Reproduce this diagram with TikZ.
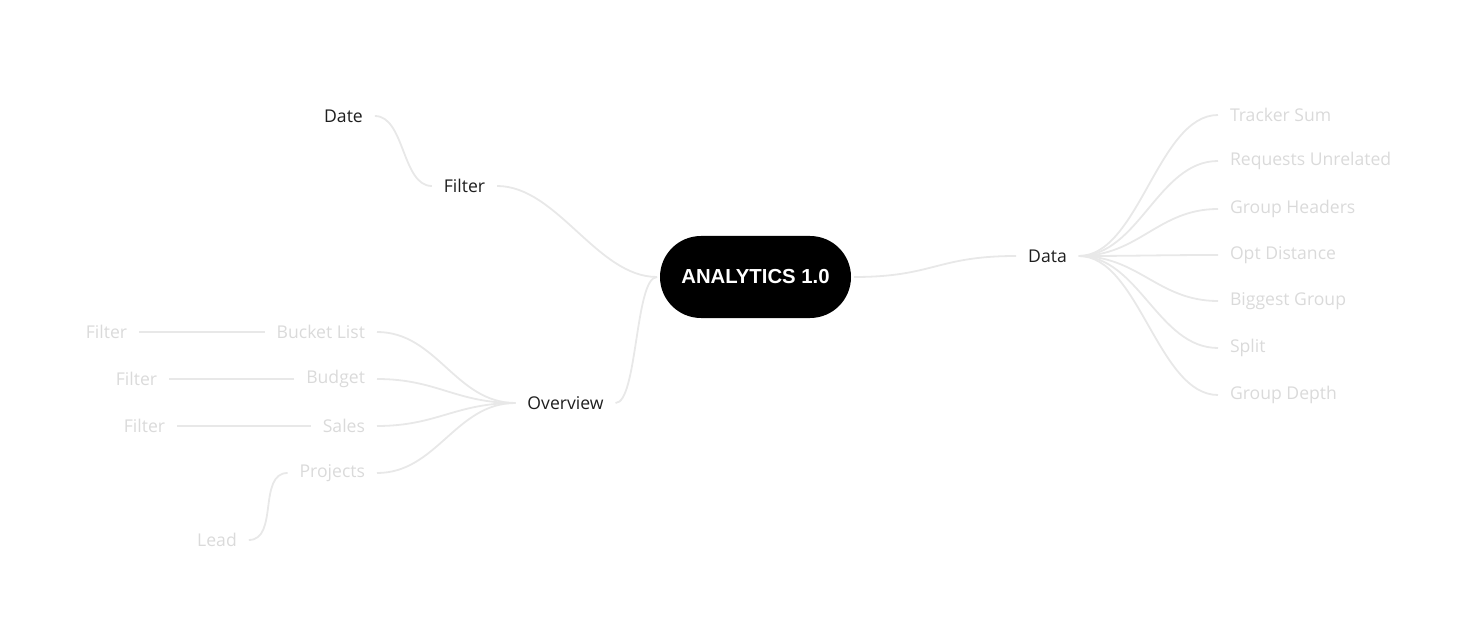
\documentclass[tikz,border=0pt]{standalone}
\usepackage{fontspec}
\setmainfont{Open Sans}
\newfontfamily\headfont{Liberation Sans}
\definecolor{linegray}{HTML}{E8E8E8}
\definecolor{blurgray}{HTML}{DADADA}
\definecolor{labelgray}{HTML}{1E1E1E}
\begin{document}
\begin{tikzpicture}[x=1pt,y=-1pt,
  lbl/.style={inner sep=0pt, outer xsep=12pt, font=\fontsize{17.6}{19}\selectfont, text=labelgray},
  faint/.style={lbl, text=blurgray},
  link/.style={draw=linegray, line width=1.8pt},
  root/.style={fill=black, rounded corners=41pt, minimum width=191pt, minimum height=82pt,
    inner sep=0pt, outer xsep=3pt, text=white, font=\headfont\bfseries\fontsize{20.3}{22}\selectfont}]
\useasboundingbox (0,0) rectangle (1472,628);

\node[root] (root) at (755.5,277) {\raisebox{-2pt}{ANALYTICS 1.0}};

\node[lbl] (filter) at (464.5,186) {Filter};
\node[lbl] (date) at (343.5,116) {Date};
\node[lbl] (overview) at (565.5,403) {Overview};
\node[lbl] (data) at (1047.5,256) {Data};

% Data children
\node[faint, anchor=west] (d1) at (1218,115) {Tracker Sum};
\node[faint, anchor=west] (d2) at (1218,161) {Requests Unrelated};
\node[faint, anchor=west] (d3) at (1218,209) {Group Headers};
\node[faint, anchor=west] (d4) at (1218,255) {Opt Distance};
\node[faint, anchor=west] (d5) at (1218,301) {Biggest Group};
\node[faint, anchor=west] (d6) at (1218,348) {Split};
\node[faint, anchor=west] (d7) at (1218,395) {Group Depth};

% Overview children
\node[faint, anchor=east] (o1) at (377,332) {Bucket List};
\node[faint, anchor=east] (o2) at (377,379) {Budget};
\node[faint, anchor=east] (o3) at (377,426) {Sales};
\node[faint, anchor=east] (o4) at (377,473) {Projects};

% grandchildren
\node[faint] (g1) at (106.5,332) {Filter};
\node[faint] (g2) at (136.5,379) {Filter};
\node[faint] (g3) at (144.5,426) {Filter};
\node[faint] (g4) at (217,540) {Lead};

% connectors
\draw[link] (root.west) .. controls +(-60,0) and +(60,0) .. (filter.east);
\draw[link] (root.west) .. controls +(-22,0) and +(22,0) .. (overview.east);
\draw[link] (root.east) .. controls +(80,0) and +(-80,0) .. (data.west);
\draw[link] (filter.west) .. controls +(-30,0) and +(30,0) .. (date.east);

\foreach \n in {d1,d2,d3,d4,d5,d6,d7}
  \draw[link] (data.east) .. controls +(60,0) and +(-60,0) .. (\n.west);
\foreach \n in {o1,o2,o3,o4}
  \draw[link] (overview.west) .. controls +(-60,0) and +(60,0) .. (\n.east);

\draw[link] (o1.west) -- (g1.east);
\draw[link] (o2.west) -- (g2.east);
\draw[link] (o3.west) -- (g3.east);
\draw[link] (o4.west) .. controls +(-30,0) and +(30,0) .. (g4.east);
\end{tikzpicture}
\end{document}
